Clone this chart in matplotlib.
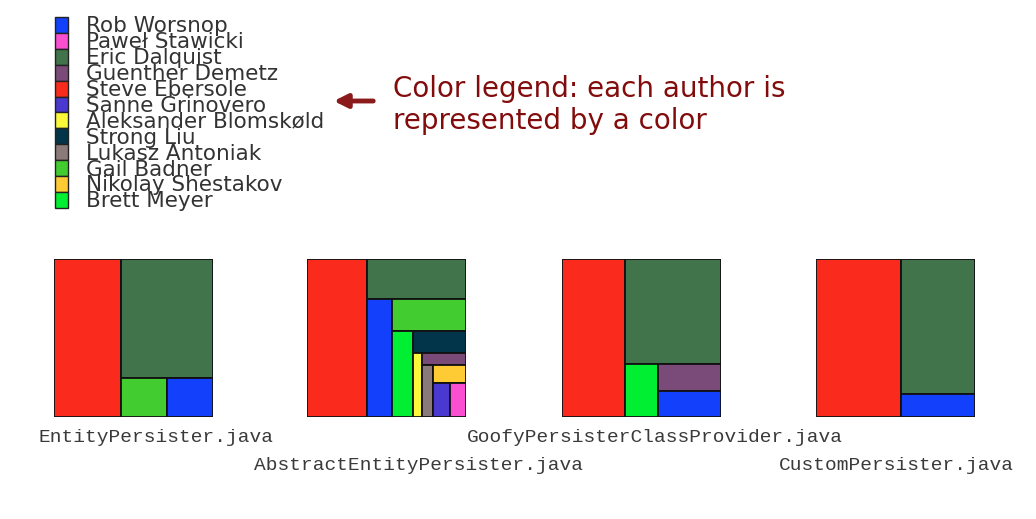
import matplotlib.pyplot as plt
from matplotlib.patches import Rectangle

# authors and colors (legend order)
authors = ['Rob Worsnop', 'Paweł Stawicki', 'Eric Dalquist', 'Guenther Demetz',
           'Steve Ebersole', 'Sanne Grinovero', 'Aleksander Blomskøld', 'Strong Liu',
           'Lukasz Antoniak', 'Gail Badner', 'Nikolay Shestakov', 'Brett Meyer']
colors = ['#1340fb', '#fb4fd2', '#41744a', '#7a4a78',
          '#fa2a1c', '#4a38d0', '#fbf73a', '#03354a',
          '#8a7a78', '#42cc30', '#fecb35', '#00ef32']
color_of = dict(zip(authors, colors))

# share of each file per author (percent), in layout order
files = ['EntityPersister.java', 'AbstractEntityPersister.java',
         'GoofyPersisterClassProvider.java', 'CustomPersister.java']

entity_authors = ['Steve Ebersole', 'Eric Dalquist', 'Gail Badner', 'Rob Worsnop']
entity_values = [42.0, 43.7, 7.15, 7.15]

abstract_authors = ['Steve Ebersole', 'Eric Dalquist', 'Rob Worsnop', 'Gail Badner',
                    'Brett Meyer', 'Strong Liu', 'Aleksander Blomskøld', 'Guenther Demetz',
                    'Lukasz Antoniak', 'Nikolay Shestakov', 'Sanne Grinovero', 'Paweł Stawicki']
abstract_values = [38.1, 15.7, 11.6, 9.5, 7.1, 4.7, 2.3, 2.1, 2.4, 2.4, 2.2, 2.2]

goofy_authors = ['Steve Ebersole', 'Eric Dalquist', 'Brett Meyer', 'Guenther Demetz', 'Rob Worsnop']
goofy_values = [39.9, 40.0, 6.8, 6.8, 6.6]

custom_authors = ['Steve Ebersole', 'Eric Dalquist', 'Rob Worsnop']
custom_values = [53.2, 40.0, 6.8]

file_authors = [entity_authors, abstract_authors, goofy_authors, custom_authors]
file_values = [entity_values, abstract_values, goofy_values, custom_values]


def strip_layout(values):
    # alternate: vertical strip on the left, horizontal strip on top, ...
    x, y, w, h = 0.0, 0.0, 1.0, 1.0
    rects = []
    for i, v in enumerate(values):
        rest = sum(values[i:])
        if i == len(values) - 1:
            rects.append((x, y, w, h))
            break
        frac = v / rest
        if i % 2 == 0:
            cw = w * frac
            rects.append((x, y, cw, h))
            x += cw
            w -= cw
        else:
            ch = h * frac
            rects.append((x, y, w, ch))
            y += ch
            h -= ch
    return rects


fig = plt.figure(figsize=(10.36, 5.19), dpi=100)

# overlay in pixel coordinates for legend, note and labels
ov = fig.add_axes([0, 0, 1, 1])
ov.set_xlim(0, 1036)
ov.set_ylim(519, 0)
ov.axis('off')

row_h = 15.9
for i, name in enumerate(authors):
    top = 17 + i * row_h
    ov.add_patch(Rectangle((55, top), 13, row_h, facecolor=colors[i],
                           edgecolor='#222222', lw=1))
    ov.text(86, top + row_h - 0.5, name, fontsize=15.5, color='#333333',
            va='baseline', ha='left', family='DejaVu Sans')

ov.annotate('', xy=(331, 101), xytext=(376, 101),
            arrowprops=dict(arrowstyle='-|>', color='#8b1a1a', lw=3.5,
                            mutation_scale=20))
ov.text(393, 105, 'Color legend: each author is\nrepresented by a color',
        fontsize=20, color='#820c0c', va='center', ha='left', linespacing=1.2)

# treemaps
box_left = [54, 307, 562, 816]
label_pos = [(38, 437), (254, 466), (467, 437), (779, 466)]
for k in range(4):
    ax = fig.add_axes([box_left[k] / 1036, 1 - 417 / 519, 159 / 1036, 158 / 519])
    ax.set_xlim(0, 1)
    ax.set_ylim(1, 0)
    ax.axis('off')
    for name, (rx, ry, rw, rh) in zip(file_authors[k], strip_layout(file_values[k])):
        ax.add_patch(Rectangle((rx, ry), rw, rh, facecolor=color_of[name],
                               edgecolor='#111111', lw=1.3))
    ov.text(label_pos[k][0], label_pos[k][1], files[k], fontsize=14,
            family='Liberation Mono', color='#3a3a3a', va='center', ha='left')

fig.savefig('out.png', dpi=100)
